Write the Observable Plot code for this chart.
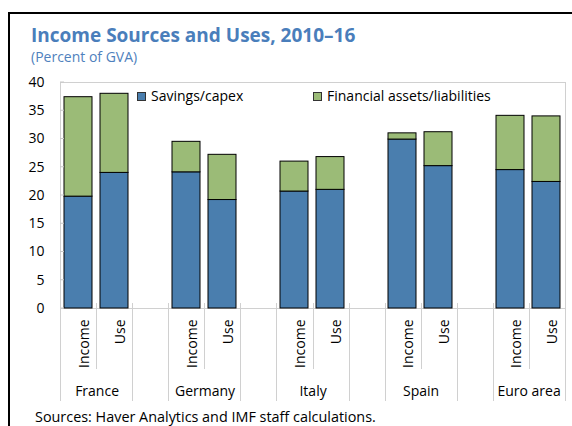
<!DOCTYPE html>
<html><head><meta charset="utf-8">
<script src="https://cdn.jsdelivr.net/npm/d3@7"></script>
<script src="https://cdn.jsdelivr.net/npm/@observablehq/plot@0.6"></script>
<style>
html,body{margin:0;padding:0;background:#fff;}
body{width:572px;height:426px;overflow:hidden;position:relative;font-family:"Open Sans",sans-serif;}
#chart{position:absolute;left:0;top:0;}
#overlay{position:absolute;left:0;top:0;pointer-events:none;}
</style>
</head><body>
<div id="chart"></div>
<svg id="overlay" width="572" height="426"></svg>
<script>
// ---- data ----
const countries = ["France", "Germany", "Italy", "Spain", "Euro area"];
const measures = ["Income", "Use"];
const seriesNames = ["Savings/capex", "Financial assets/liabilities"];
const seriesColors = ["#4a7eae", "#9bbb77"];
// values in order France Income, France Use, Germany Income, ...
const savings   = [19.8, 24.0, 24.1, 19.2, 20.7, 21.0, 29.9, 25.2, 24.5, 22.4];
const financial = [17.6, 14.0,  5.4,  8.0,  5.3,  5.8,  1.1,  6.0,  9.6, 11.6];
const yTicks = [0, 5, 10, 15, 20, 25, 30, 35, 40];
const titleText = "Income Sources and Uses, 2010\u201316";
const subtitleText = "(Percent of GVA)";
const sourceText = "Sources: Haver Analytics and IMF staff calculations.";

// ---- build slots (with blank gap slots between countries) ----
const slots = [];
countries.forEach((c, i) => {
  if (i > 0) slots.push("gap" + i);
  measures.forEach(m => slots.push(c + "|" + m));
});
const rows = [];
countries.forEach((c, i) => measures.forEach((m, j) => {
  const k = i * 2 + j;
  rows.push({slot: c + "|" + m, series: seriesNames[0], value: savings[k]});
  rows.push({slot: c + "|" + m, series: seriesNames[1], value: financial[k]});
}));

const FONT = "Open Sans";

function decor(index, scales, values, dims) {
  const g = d3.create("svg:g").attr("font-family", FONT).attr("font-size", 14);
  const x = scales.x, y = scales.y, color = scales.color;
  const step = (dims.width - dims.marginLeft - dims.marginRight) / slots.length;
  const y0 = y(0);
  // small inward y ticks
  for (const t of yTicks) {
    g.append("line").attr("x1", dims.marginLeft).attr("x2", dims.marginLeft + 4)
      .attr("y1", y(t)).attr("y2", y(t)).attr("stroke", "#c8c8c8");
  }
  // category separators
  for (let i = 0; i <= slots.length; i++) {
    const xb = Math.round(dims.marginLeft + i * step) + 0.5;
    const short = i % 3 === 1;
    g.append("line").attr("x1", xb).attr("x2", xb)
      .attr("y1", y0 - 5).attr("y2", short ? y0 + 61 : y0 + 93)
      .attr("stroke", "#d0d0d0");
  }
  // country labels
  for (const c of countries) {
    g.append("text").attr("x", x(c + "|Income") + step).attr("y", y0 + 88)
      .attr("text-anchor", "middle").attr("fill", "#000").text(c);
  }
  // legend
  const legX = [x("gap1") + 4, x("Italy|Use")];
  seriesNames.forEach((s, i) => {
    g.append("rect").attr("x", legX[i] + 0.5).attr("y", dims.marginTop + 10.5)
      .attr("width", 8).attr("height", 8).attr("fill", color(s)).attr("stroke", "#333");
    g.append("text").attr("x", legX[i] + 14).attr("y", dims.marginTop + 19)
      .attr("text-anchor", "start").attr("fill", "#000").text(s);
  });
  return g.node();
}

const plot = Plot.plot({
  width: 572,
  height: 426,
  marginLeft: 60,
  marginRight: 7,
  marginTop: 82,
  marginBottom: 118,
  style: {fontFamily: FONT, fontSize: "14px", color: "#000", background: "transparent"},
  x: {domain: slots, padding: 0, axis: null},
  y: {domain: [0, 40], axis: null},
  color: {domain: seriesNames, range: seriesColors},
  marks: [
    Plot.frame({stroke: "#d0d0d0"}),
    Plot.barY(rows, {x: "slot", y: "value", fill: "series", stroke: "#000", strokeWidth: 1, insetLeft: 3, insetRight: 5}),
    Plot.axisY({ticks: yTicks, tickSize: 0, tickPadding: 16, fontSize: 14, label: null}),
    Plot.axisX({tickSize: 0, tickPadding: 11, rotate: -90, textAnchor: "end", fontSize: 14, label: null,
      tickFormat: k => k.startsWith("gap") ? "" : k.split("|")[1]}),
    decor
  ]
});
document.getElementById("chart").appendChild(plot);

// ---- overlay: outer frame, title, subtitle, source ----
const ov = d3.select("#overlay");
ov.append("path").attr("d", "M9,600 V13 H600").attr("fill", "none").attr("stroke", "#000").attr("stroke-width", 2);
ov.append("text").attr("x", 31).attr("y", 42).attr("font-family", FONT).attr("font-weight", 700)
  .attr("font-size", 19).attr("fill", "#4a7ebb").text(titleText);
ov.append("text").attr("x", 31).attr("y", 61.5).attr("font-family", FONT)
  .attr("font-size", 14).attr("fill", "#4f81bd").text(subtitleText);
ov.append("text").attr("x", 35).attr("y", 421.5).attr("font-family", FONT)
  .attr("font-size", 14.4).attr("fill", "#000").text(sourceText);
</script>
</body></html>
